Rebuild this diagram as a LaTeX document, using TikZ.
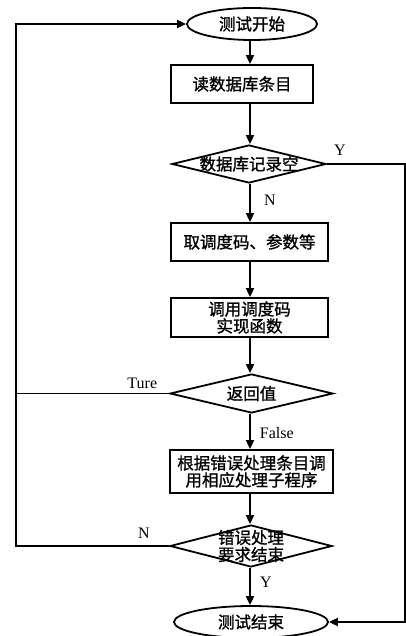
\documentclass[tikz,border=0pt]{standalone}
\usepackage{fontspec}
\newfontfamily\cjk[FakeBold=1.2]{Noto Sans CJK SC}
\newfontfamily\lat{Liberation Serif}
\usetikzlibrary{shapes.geometric,arrows.meta}
\begin{document}
\begin{tikzpicture}[x=1pt,y=-1pt,line width=1.8pt,
  >={Triangle[length=9pt,width=8pt]},
  txt/.style={font=\cjk\fontsize{16.5}{17}\selectfont,align=center,inner sep=0pt},
  lab/.style={font=\lat\fontsize{16}{16}\selectfont,inner sep=0pt},
  term/.style={draw,ellipse,txt},
  procbox/.style={draw,rectangle,txt},
  dia/.style={draw,diamond,inner sep=0pt}]
\useasboundingbox (0,0) rectangle (406,636);
% nodes
\node[term,minimum width=130pt,minimum height=32pt] (start) at (252,24) {测试开始};
\node[procbox,minimum width=142pt,minimum height=38pt] (box1) at (242,84) {读数据库条目};
\node[dia,minimum width=154pt,minimum height=38pt] (d1) at (249,164) {};
\node[txt] (d1t) at (d1) {数据库记录空};
\node[procbox,minimum width=157pt,minimum height=38pt] (box2) at (249.5,242) {取调度码、参数等};
\node[procbox,minimum width=157pt,minimum height=39pt] (box3) at (249.5,317.5) {调用调度码\\实现函数};
\node[dia,minimum width=163pt,minimum height=39pt] (d2) at (251.5,393.5) {};
\node[txt] (d2t) at (d2) {返回值};
\node[procbox,minimum width=163pt,minimum height=43pt] (box4) at (251.5,471.5) {根据错误处理条目调\\用相应处理子程序};
\node[dia,minimum width=162pt,minimum height=42pt] (d3) at (251,546) {};
\node[txt] (d3t) at (d3) {错误处理\\要求结束};
\node[term,minimum width=154pt,minimum height=32pt] (end) at (251,622) {测试结束};
% labels
\node[lab] (ly1) at (340,150) {Y};
\node[lab] (ln1) at (270,200) {N};
\node[lab,anchor=east] (lture) at (158,383) {Ture};
\node[lab,anchor=west] (lfalse) at (259,433) {False};
\node[lab] (ln2) at (144,533) {N};
\node[lab] (ly2) at (266,582) {Y};
% helper coordinates
\coordinate (ax) at (250,0);
\coordinate (lt) at (16,24);
\coordinate (rt) at (405,164);
% main flow
\draw[->] (start.south -| ax) -- (box1.north -| ax);
\draw[->] (box1.south -| ax) -- (d1.north -| ax);
\draw[->] (d1.south -| ax) -- (box2.north -| ax);
\draw[->] (box2.south -| ax) -- (box3.north -| ax);
\draw[->] (box3.south -| ax) -- (d2.north -| ax);
\draw[->] (d2.south -| ax) -- (box4.north -| ax);
\draw[->] (box4.south -| ax) -- (d3.north -| ax);
\draw[->] (d3.south -| ax) -- (end.north -| ax);
% loops
\draw[->] (d3.west) -- (d3.west -| lt) -- (lt) -- (start.west);
\draw (d2.west) -- (d2.west -| lt);
\draw[->] (d1.east) -- (rt) -- (rt |- end.east) -- (end.east);
\end{tikzpicture}
\end{document}
